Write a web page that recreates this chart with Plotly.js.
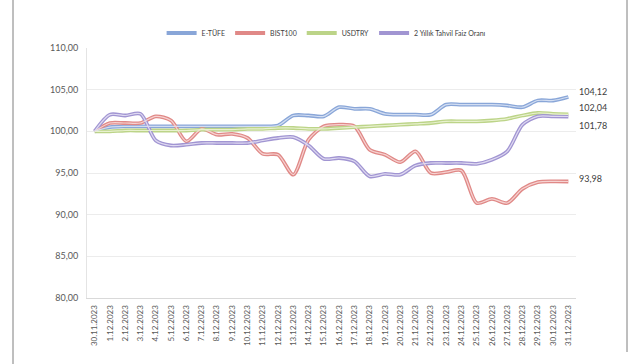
<!DOCTYPE html>
<html>
<head>
<meta charset="utf-8">
<script src="https://cdn.plot.ly/plotly-3.0.1.min.js"></script>
<style>
  html, body { margin: 0; padding: 0; background: #ffffff; }
  #chart { width: 632px; height: 364px; }
</style>
</head>
<body>
<div id="chart"></div>
<script>
const dates = ["30.11.2023","1.12.2023","2.12.2023","3.12.2023","4.12.2023","5.12.2023","6.12.2023","7.12.2023","8.12.2023","9.12.2023","10.12.2023","11.12.2023","12.12.2023","13.12.2023","14.12.2023","15.12.2023","16.12.2023","17.12.2023","18.12.2023","19.12.2023","20.12.2023","21.12.2023","22.12.2023","23.12.2023","24.12.2023","25.12.2023","26.12.2023","27.12.2023","28.12.2023","29.12.2023","30.12.2023","31.12.2023"];

const etufe = [100, 100.5, 100.6, 100.6, 100.6, 100.6, 100.6, 100.6, 100.6, 100.6, 100.6, 100.6, 100.7, 101.9, 101.9, 101.8, 102.9, 102.7, 102.7, 102.1, 102.0, 102.0, 102.0, 103.2, 103.2, 103.2, 103.2, 103.1, 102.9, 103.7, 103.7, 104.12];
const bist100 = [100, 101.0, 101.0, 101.0, 101.8, 101.3, 98.8, 100.3, 99.6, 99.7, 99.2, 97.3, 97.2, 94.8, 99.0, 100.6, 100.8, 100.6, 97.8, 97.2, 96.3, 97.6, 95.0, 95.1, 95.3, 91.4, 91.9, 91.4, 93.1, 93.9, 94.0, 93.98];
const usdtry = [100, 100.0, 100.1, 100.1, 100.1, 100.1, 100.1, 100.2, 100.2, 100.2, 100.3, 100.3, 100.4, 100.4, 100.3, 100.3, 100.4, 100.5, 100.6, 100.7, 100.8, 100.9, 101.0, 101.2, 101.2, 101.2, 101.3, 101.5, 101.9, 102.2, 102.1, 102.04];
const tahvil = [100, 102.0, 101.9, 102.1, 98.9, 98.3, 98.4, 98.6, 98.6, 98.6, 98.6, 98.9, 99.2, 99.3, 98.3, 96.7, 96.8, 96.4, 94.6, 94.9, 94.8, 95.9, 96.2, 96.2, 96.2, 96.1, 96.6, 97.6, 100.8, 101.8, 101.8, 101.78];

const seriesNames = ["E-TÜFE", "BIST100", "USDTRY", "2 Yıllık Tahvil Faiz Oranı"];
const yTickVals = [80, 85, 90, 95, 100, 105, 110];

const seriesData = [etufe, bist100, usdtry, tahvil];
const outerColors = ["#89a6d8", "#e08987", "#bcd488", "#a195d2"];
const innerColors = ["#d3def2", "#f6d3d2", "#e8f1cf", "#dfdaf1"];
const labelShift = [6, 3, 7, -9];

const traces = [];
seriesData.forEach((vals, i) => {
  traces.push({
    x: dates, y: vals, type: "scatter", mode: "lines", name: seriesNames[i],
    line: { color: outerColors[i], width: 3.8, shape: "spline", smoothing: 0.8 },
    hoverinfo: "skip"
  });
});
seriesData.forEach((vals, i) => {
  traces.push({
    x: dates, y: vals, type: "scatter", mode: "lines", showlegend: false,
    line: { color: innerColors[i], width: 1.2, shape: "spline", smoothing: 0.8 },
    hoverinfo: "skip"
  });
});

const fmt = v => v.toFixed(2).replace(".", ",");
const annotations = seriesData.map((vals, i) => ({
  x: dates[dates.length - 1], y: vals[vals.length - 1], xref: "x", yref: "y",
  text: fmt(vals[vals.length - 1]), showarrow: false, xanchor: "left",
  xshift: 9, yshift: labelShift[i],
  font: { family: "Lato, 'Liberation Sans', sans-serif", size: 9, color: "#404040" }
}));

const layout = {
  width: 632, height: 364,
  margin: { l: 87, r: 56, t: 48, b: 66 },
  paper_bgcolor: "#ffffff", plot_bgcolor: "#ffffff",
  separators: ",.",
  font: { family: "Lato, 'Liberation Sans', sans-serif", color: "#595959", size: 9 },
  showlegend: true,
  legend: {
    orientation: "h", x: 0.49, xanchor: "center", y: 1.06, yanchor: "middle",
    font: { size: 7, color: "#404040" }, itemwidth: 30, traceorder: "normal"
  },
  xaxis: {
    type: "category", range: [-0.5, dates.length - 0.5],
    tickangle: -90, showgrid: false, showline: true, linecolor: "#d9d9d9", linewidth: 1,
    ticks: "", ticklabelstandoff: 3, tickfont: { size: 8, color: "#595959" }, fixedrange: true
  },
  yaxis: {
    range: [80, 110], tickvals: yTickVals, tickformat: ".2f",
    showgrid: true, gridcolor: "#ececec", gridwidth: 1,
    showline: true, linecolor: "#e4e4e4", zeroline: false, ticks: "",
    ticklabelstandoff: 6,
    tickfont: { size: 9, color: "#595959" }, fixedrange: true
  },
  annotations: annotations,
  shapes: [
    { type: "line", xref: "paper", yref: "paper", x0: -0.1513, x1: -0.1513, y0: -0.27, y1: 1.2,
      line: { color: "#7f7f7f", width: 1 } },
    { type: "line", xref: "paper", yref: "paper", x0: 1.1043, x1: 1.1043, y0: -0.216, y1: 1.2,
      line: { color: "#7f7f7f", width: 1 } }
  ]
};

Plotly.newPlot("chart", traces, layout, { staticPlot: true, displayModeBar: false });
</script>
</body>
</html>
